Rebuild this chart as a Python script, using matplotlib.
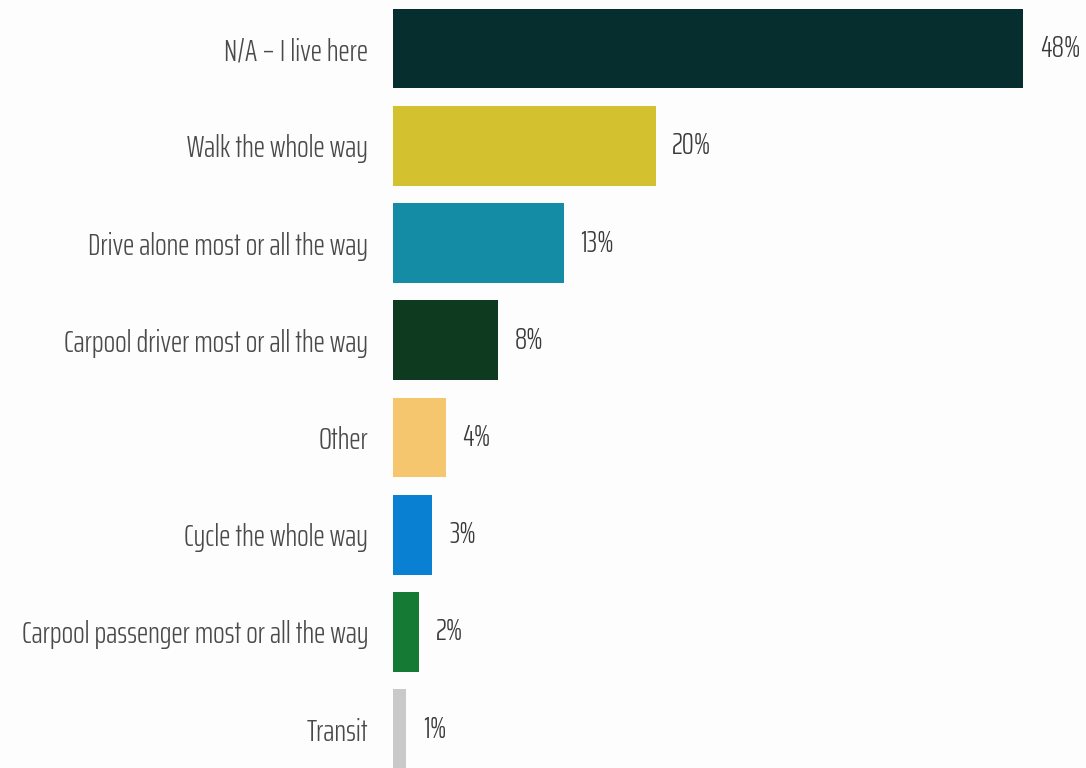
import matplotlib.pyplot as plt

# survey answers, top to bottom
modes = [
    "N/A \u2013 I live here",
    "Walk the whole way",
    "Drive alone most or all the way",
    "Carpool driver most or all the way",
    "Other",
    "Cycle the whole way",
    "Carpool passenger most or all the way",
    "Transit",
]
shares = [48, 20, 13, 8, 4, 3, 2, 1]
bar_colors = ["#062e2f", "#d3c12f", "#158ca6", "#0e3b20",
              "#f6c66e", "#0a80d2", "#147a34", "#c9c9c9"]

plt.rcParams["font.family"] = ["Saira ExtraCondensed", "Sofia Sans Extra Condensed",
                               "Barlow Condensed", "DejaVu Sans"]
plt.rcParams["font.weight"] = 300

fig = plt.figure(figsize=(10.86, 7.68), dpi=100)
fig.patch.set_facecolor("#fdfdfd")
ax = fig.add_axes([393 / 1086, 0, 1 - 393 / 1086, 1])
ax.set_facecolor("#fdfdfd")

ypos = list(range(len(modes)))
ax.barh(ypos, shares, height=0.82, color=bar_colors)

for y, v in zip(ypos, shares):
    ax.annotate(f"{v}%", (v, y), xytext=(12, 0), textcoords="offset points",
                va="center", ha="left", fontsize=22, color="#3a3a3a")

ax.set_xlim(0, 52.8)
ax.set_ylim(7.40, -0.50)
ax.set_yticks(ypos)
ax.set_yticklabels(modes, fontsize=22, color="#4a4a4a")
ax.tick_params(axis="y", length=0, pad=18)
ax.set_xticks([])
for s in ax.spines.values():
    s.set_visible(False)

fig.savefig("out.png", dpi=100, facecolor=fig.get_facecolor())
